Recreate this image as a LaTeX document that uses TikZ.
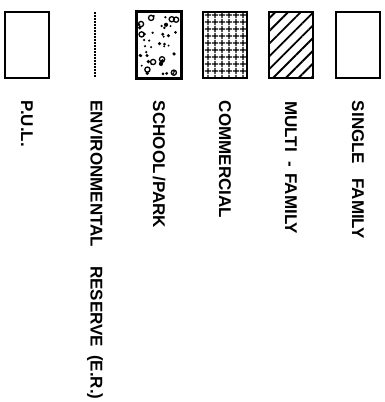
\documentclass[tikz,border=0pt]{standalone}
\usepackage{fontspec}
\setmainfont{Liberation Sans}
\usetikzlibrary{positioning,calc,patterns.meta}

\tikzset{
  swatch/.style={rectangle, draw=black, line width=1.6pt, minimum width=44pt, minimum height=66pt, inner sep=0pt},
  lbl/.style={rotate=-90, anchor=west, inner sep=0pt, font=\fontsize{17}{19}\selectfont\bfseries},
  erline/.style={line width=2.3pt, dash pattern=on 1.7pt off 1.3pt}
}

\begin{document}
\begin{tikzpicture}
\useasboundingbox (0pt,0pt) rectangle (385pt,402pt);

% legend swatches
\node[swatch] (pul) at (27pt,357pt) {};
\coordinate (ertop) at (95pt,390pt);
\coordinate (erbot) at (95pt,325pt);
\node[swatch] (sp) at (159pt,357pt) {};
\node[swatch, pattern={Hatch[distance=6.5pt, line width=1.3pt]}] (com) at (225pt,357pt) {};
\node[swatch, pattern={Lines[angle=45, distance=9pt, line width=1.9pt]}] (mf) at (291pt,357pt) {};
\node[swatch] (sf) at (358pt,357pt) {};

\draw[erline] (ertop) -- (erbot);

% speckle for school / park
\begin{scope}
  \clip (sp.south west) rectangle (sp.north east);
  \pgfmathsetseed{11}
  \foreach \i in {1,...,40} {
    \pgfmathsetmacro{\dx}{rnd*40-20}
    \pgfmathsetmacro{\dy}{rnd*62-31}
    \pgfmathsetmacro{\rr}{0.8+rnd*1.4}
    \fill ($(sp.center)+(\dx pt,\dy pt)$) circle (\rr pt);
  }
  \foreach \i in {1,...,9} {
    \pgfmathsetmacro{\dx}{rnd*36-18}
    \pgfmathsetmacro{\dy}{rnd*56-28}
    \draw[line width=1.3pt] ($(sp.center)+(\dx pt,\dy pt)$) circle (2.6pt);
  }
\end{scope}
\draw[line width=1.6pt] (sp.south west) rectangle (sp.north east);

% labels
\node[lbl] (lpul) at ($(pul.south)+(0,-22pt)$) {P.U.L.};
\node[lbl] (ler) at ($(erbot)+(0,-23pt)$) {ENVIRONMENTAL\hspace{19pt}RESERVE\hspace{8pt}(E.R.)};
\node[lbl] (lsp) at ($(sp.south)+(0,-22pt)$) {SCHOOL\,/PARK};
\node[lbl] (lcom) at ($(com.south)+(0,-22pt)$) {COMMERCIAL};
\node[lbl] (lmf) at ($(mf.south)+(0,-22pt)$) {MULTI\hspace{10pt}-\hspace{6pt}FAMILY};
\node[lbl] (lsf) at ($(sf.south)+(0,-22pt)$) {SINGLE\hspace{14pt}FAMILY};
\end{tikzpicture}
\end{document}
